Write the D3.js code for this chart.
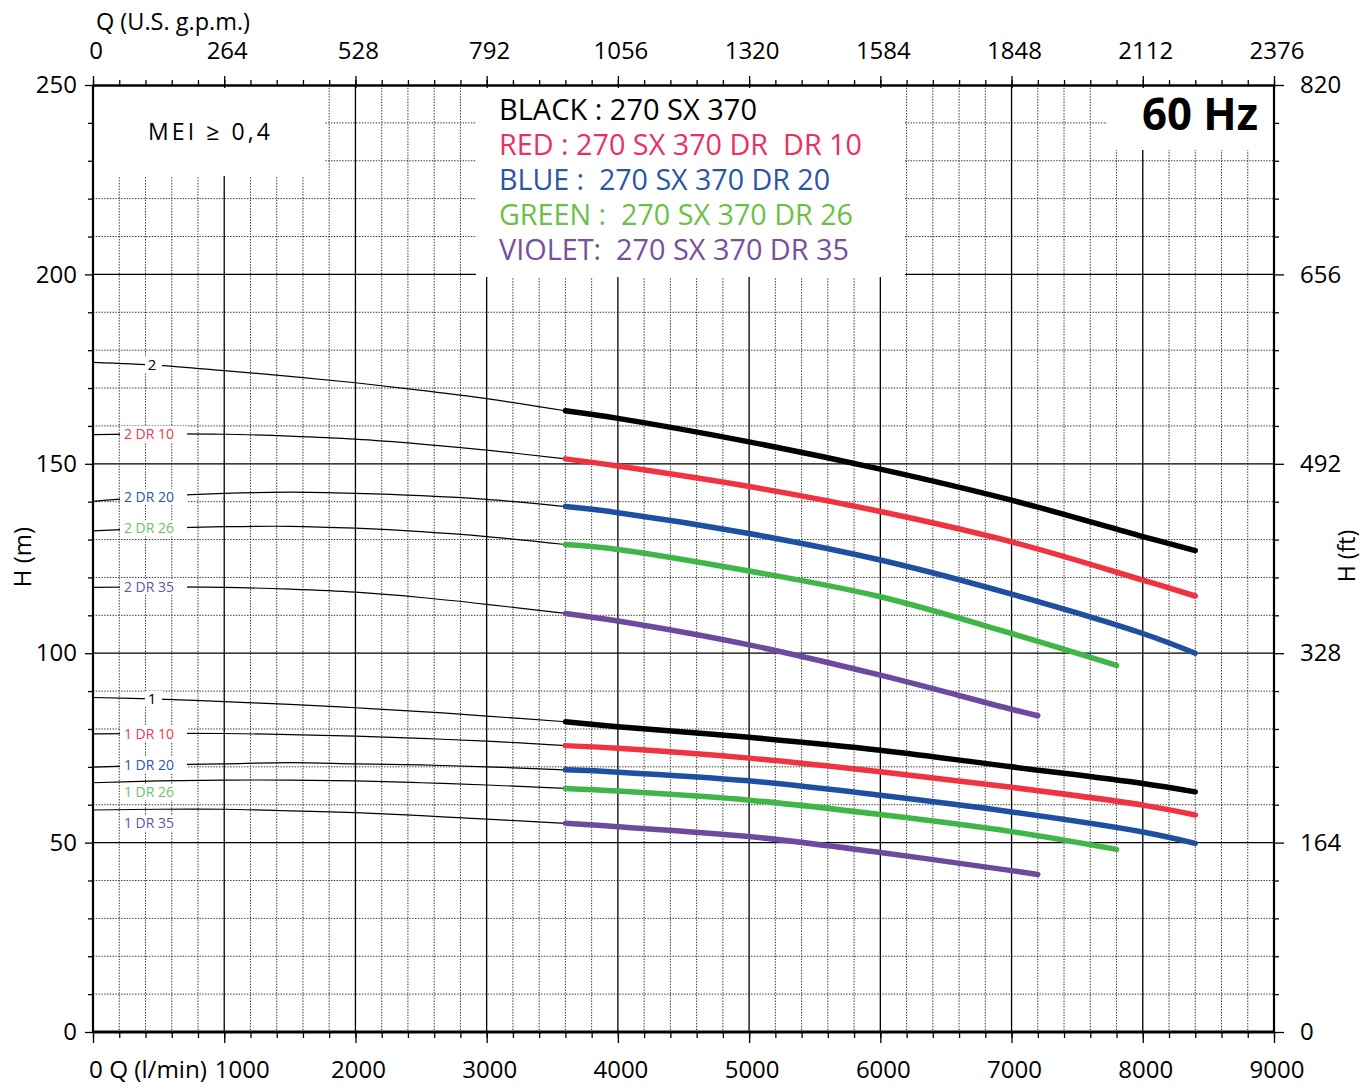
<!DOCTYPE html>
<html><head><meta charset="utf-8">
<script src="https://cdn.jsdelivr.net/npm/d3@7"></script>
<style>
body{margin:0;background:#fff}
svg{display:block;font-family:"Open Sans",sans-serif}
.pre{white-space:pre}
</style></head><body><svg id="c" width="1362" height="1091"></svg>
<script>
// ---------- data ----------
const flowTo8400 = [0,500,1000,1500,2000,2500,3000,3600,4000,5000,6000,7000,8000,8400];
const flowTo7800 = [0,500,1000,1500,2000,2500,3000,3600,4000,5000,6000,7000,7800];
const flowTo7200 = [0,500,1000,1500,2000,2500,3000,3600,4000,5000,6000,7000,7200];

const head2      = [176.8,176.0,174.6,173.1,171.4,169.4,167.2,164.0,162.0,155.8,148.6,140.4,130.8,127.1];
const head2DR10  = [157.7,157.9,157.8,157.3,156.5,155.2,153.6,151.3,149.4,144.0,137.4,129.4,119.3,115.1];
const head2DR20  = [140.1,141.4,142.2,142.5,142.2,141.6,140.6,138.7,137.1,131.6,124.6,115.6,105.2,100.0];
const head2DR26  = [132.3,133.0,133.4,133.5,133.0,132.1,130.8,128.7,127.4,121.7,114.9,105.2,96.8];
const head2DR35  = [117.4,117.5,117.4,116.9,116.1,114.7,112.9,110.5,108.5,102.2,94.2,85.2,83.5];
const head1      = [88.3,87.9,87.2,86.5,85.6,84.6,83.4,81.9,80.6,77.8,74.4,70.0,65.6,63.4];
const head1DR10  = [78.7,78.8,78.8,78.5,78.1,77.5,76.8,75.6,74.9,72.3,68.7,64.6,59.9,57.3];
const head1DR20  = [69.9,70.5,70.8,71.1,70.8,70.5,70.0,69.2,68.6,66.3,62.5,58.1,52.8,49.8];
const head1DR26  = [65.8,66.3,66.5,66.5,66.3,65.8,65.2,64.3,63.6,61.2,57.4,52.9,48.2];
const head1DR35  = [58.6,58.8,58.8,58.4,57.9,57.1,56.2,55.1,54.2,51.6,47.4,42.6,41.6];

const seriesNames  = ["2","2 DR 10","2 DR 20","2 DR 26","2 DR 35","1","1 DR 10","1 DR 20","1 DR 26","1 DR 35"];
const seriesFlows  = [flowTo8400,flowTo8400,flowTo8400,flowTo7800,flowTo7200,flowTo8400,flowTo8400,flowTo8400,flowTo7800,flowTo7200];
const seriesHeads  = [head2,head2DR10,head2DR20,head2DR26,head2DR35,head1,head1DR10,head1DR20,head1DR26,head1DR35];
const seriesColorKeys = ["black","red","blue","green","violet","black","red","blue","green","violet"];

const legendLines = ["BLACK : 270 SX 370","RED : 270 SX 370 DR  DR 10","BLUE :  270 SX 370 DR 20","GREEN :  270 SX 370 DR 26","VIOLET:  270 SX 370 DR 35"];
const legendColorKeys = ["black","red","blue","green","violet"];

const flowTicks   = [1000,2000,3000,4000,5000,6000,7000,8000,9000];
const gpmTicks    = [0,264,528,792,1056,1320,1584,1848,2112,2376];
const headTicks   = [0,50,100,150,200,250];
const feetTicks   = [0,164,328,492,656,820];

// ---------- styles ----------
const curveColor  = {black:"#000000", red:"#ef3340", blue:"#1f4fa0", green:"#40b649", violet:"#6e4a9e"};
const legendColor = {black:"#000000", red:"#ec2f5e", blue:"#2856a8", green:"#6cbf46", violet:"#784e9e"};
const labelColor  = {black:"#000000", red:"#ef3a4a", blue:"#2c56a6", green:"#6cc26a", violet:"#6d50a0"};

const svg = d3.select("#c");
const x  = d3.scaleLinear().domain([0,9000]).range([93,1274]);
const y  = d3.scaleLinear().domain([0,250]).range([1032,85]);
const xg = d3.scaleLinear().domain([0,2376]).range([93,1274]);
const yf = d3.scaleLinear().domain([0,820]).range([1032,85]);

svg.append("rect").attr("width",1362).attr("height",1091).attr("fill","#fff");

// ---------- grid ----------
const minorX = d3.range(200,9000,200).filter(v=>v%1000!==0);
const minorY = d3.range(10,250,10).filter(v=>v%50!==0);
const grid = svg.append("g");
grid.selectAll(".mx").data(minorX).join("line")
  .attr("x1",d=>x(d)).attr("x2",d=>x(d)).attr("y1",y(250)).attr("y2",y(0))
  .attr("stroke","#333").attr("stroke-width",1).attr("stroke-dasharray","1.4,1.4");
grid.selectAll(".my").data(minorY).join("line")
  .attr("x1",x(0)).attr("x2",x(9000)).attr("y1",d=>y(d)).attr("y2",d=>y(d))
  .attr("stroke","#333").attr("stroke-width",1).attr("stroke-dasharray","1.4,1.4");
grid.selectAll(".Mx").data(d3.range(1000,9000,1000)).join("line")
  .attr("x1",d=>x(d)).attr("x2",d=>x(d)).attr("y1",y(250)).attr("y2",y(0))
  .attr("stroke","#000").attr("stroke-width",1.3);
grid.selectAll(".My").data([50,100,150,200]).join("line")
  .attr("x1",x(0)).attr("x2",x(9000)).attr("y1",d=>y(d)).attr("y2",d=>y(d))
  .attr("stroke","#000").attr("stroke-width",1.3);

// ---------- white boxes ----------
const boxes = svg.append("g");
[[93,85,325,176],[476,85,905,277],[1107,85,1274,150]].forEach(b=>{
  boxes.append("rect").attr("x",b[0]).attr("y",b[1]).attr("width",b[2]-b[0]).attr("height",b[3]-b[1]).attr("fill","#fff");
});

// ---------- axes ----------
function clean(g){ g.select(".domain").remove(); g.selectAll("line").attr("stroke","#000").attr("stroke-width",1.3); }
const fontSize = 24;
// top
svg.append("g").attr("transform",`translate(0,${y(250)})`)
  .call(d3.axisTop(x).tickValues(d3.range(0,9001,200)).tickSize(5).tickFormat("")).call(clean);
svg.append("g").attr("transform",`translate(0,${y(250)+3})`)
  .call(d3.axisTop(xg).tickValues(gpmTicks).tickSize(12).tickFormat("")).call(clean);
svg.append("g").selectAll("text").data(gpmTicks).join("text")
  .attr("x",d=>xg(d)+3).attr("y",59).attr("text-anchor","middle")
  .attr("font-size",fontSize).text(d=>d);
svg.append("text").attr("x",96).attr("y",30).attr("font-size",23)
  .attr("textLength",154).attr("lengthAdjust","spacingAndGlyphs").text("Q (U.S. g.p.m.)");
// bottom
svg.append("g").attr("transform",`translate(0,${y(0)})`)
  .call(d3.axisBottom(x).tickValues(d3.range(0,9001,200)).tickSize(6).tickFormat("")).call(clean);
svg.append("g").attr("transform",`translate(0,${y(0)})`)
  .call(d3.axisBottom(x).tickValues([0].concat(flowTicks)).tickSize(11).tickFormat("")).call(clean);
svg.append("g").selectAll("text").data(flowTicks).join("text")
  .attr("x",d=>x(d)+(d===1000?18:3)).attr("y",1078).attr("text-anchor","middle")
  .attr("font-size",fontSize).text(d=>d);
svg.append("text").attr("x",89).attr("y",1078).attr("font-size",fontSize)
  .attr("textLength",118).attr("lengthAdjust","spacingAndGlyphs").text("0 Q (l/min)");
// left
svg.append("g").attr("transform",`translate(${x(0)},0)`)
  .call(d3.axisLeft(y).tickValues(minorY).tickSize(5).tickFormat("")).call(clean);
svg.append("g").attr("transform",`translate(${x(0)},0)`)
  .call(d3.axisLeft(y).tickValues(headTicks).tickSize(8).tickPadding(8)).call(clean)
  .call(g=>g.selectAll("text").attr("font-size",fontSize).attr("font-family","Open Sans").attr("fill","#000"));
// right
svg.append("g").attr("transform",`translate(${x(9000)},0)`)
  .call(d3.axisRight(y).tickValues(minorY).tickSize(5).tickFormat("")).call(clean);
svg.append("g").attr("transform",`translate(${x(9000)},0)`)
  .call(d3.axisRight(yf).tickValues(feetTicks).tickSize(10).tickPadding(16)).call(clean)
  .call(g=>g.selectAll("text").attr("font-size",fontSize).attr("font-family","Open Sans").attr("fill","#000"));

svg.append("text").attr("transform","translate(31,557) rotate(-90)").attr("text-anchor","middle")
  .attr("font-size",fontSize).text("H (m)");
svg.append("text").attr("transform","translate(1355,556) rotate(-90)").attr("text-anchor","middle")
  .attr("font-size",23).text("H (ft)");

// frame
const frame = svg.append("g").attr("stroke","#000").attr("fill","none");
frame.append("line").attr("x1",x(0)).attr("x2",x(9000)).attr("y1",y(250)+0.5).attr("y2",y(250)+0.5).attr("stroke-width",2.5);
frame.append("line").attr("x1",x(0)).attr("x2",x(9000)).attr("y1",y(0)).attr("y2",y(0)).attr("stroke-width",3);
frame.append("line").attr("x1",x(0)).attr("x2",x(0)).attr("y1",y(250)).attr("y2",y(0)).attr("stroke-width",2.2);
frame.append("line").attr("x1",x(9000)).attr("x2",x(9000)).attr("y1",y(250)).attr("y2",y(0)).attr("stroke-width",2.2);

// ---------- texts in boxes ----------
svg.append("text").attr("x",148).attr("y",140).attr("font-size",23)
  .attr("textLength",122).attr("lengthAdjust","spacing").text("MEI ≥ 0,4");
svg.append("text").attr("x",1142).attr("y",130).attr("font-size",45).attr("font-weight","bold")
  .attr("textLength",116).attr("lengthAdjust","spacingAndGlyphs").text("60 Hz");
const legendWidths = [258,363,331,354,350];
svg.append("g").selectAll("text").data(legendLines).join("text").attr("class","pre")
  .attr("x",499).attr("y",(d,i)=>120+i*35.1).attr("font-size",30)
  .attr("fill",(d,i)=>legendColor[legendColorKeys[i]])
  .attr("textLength",(d,i)=>legendWidths[i]).attr("lengthAdjust","spacingAndGlyphs").text(d=>d);

// ---------- curves ----------
const series = seriesNames.map((n,i)=>({
  name:n, color:seriesColorKeys[i],
  pts: seriesFlows[i].map((q,j)=>({q, h:seriesHeads[i][j]}))
}));
const line = d3.line().x(d=>x(d.q)).y(d=>y(d.h)).curve(d3.curveCatmullRom.alpha(0.5));
const interp = (s,q)=>{ const p=s.pts; for(let j=1;j<p.length;j++){ if(q<=p[j].q){ const t=(q-p[j-1].q)/(p[j].q-p[j-1].q); return p[j-1].h+t*(p[j].h-p[j-1].h);} } return p[p.length-1].h; };

const labelQ = 460;
const underLabels = {"1 DR 26":11, "1 DR 35":14};
const gUnder = svg.append("g");
const gThin  = svg.append("g").attr("fill","none");
const gCut   = svg.append("g");
const gThick = svg.append("g").attr("fill","none");

function drawLabel(g, s, dy){
  const isShort = s.name.length===1;
  const cy = y(interp(s,labelQ)) + dy;
  const w = isShort ? 17 : 67;
  g.append("rect").attr("x",153.5-w/2).attr("y",cy-8).attr("width",w).attr("height",16).attr("fill","#fff");
  g.append("text").attr("x",isShort?152:149).attr("y",cy+5).attr("text-anchor","middle")
    .attr("font-size",isShort?15:14).attr("fill",labelColor[s.color]).text(s.name);
}
series.forEach(s=>{
  if(underLabels[s.name]!==undefined) drawLabel(gUnder, s, underLabels[s.name]);
  else drawLabel(gCut, s, 0);
  gThin.append("path").datum(s.pts.filter(p=>p.q<=3600)).attr("d",line)
    .attr("stroke","#000").attr("stroke-width",1.2);
  gThick.append("path").datum(s.pts.filter(p=>p.q>=3600)).attr("d",line)
    .attr("stroke",curveColor[s.color]).attr("stroke-width",5.5).attr("stroke-linecap","round");
});
</script></body></html>
